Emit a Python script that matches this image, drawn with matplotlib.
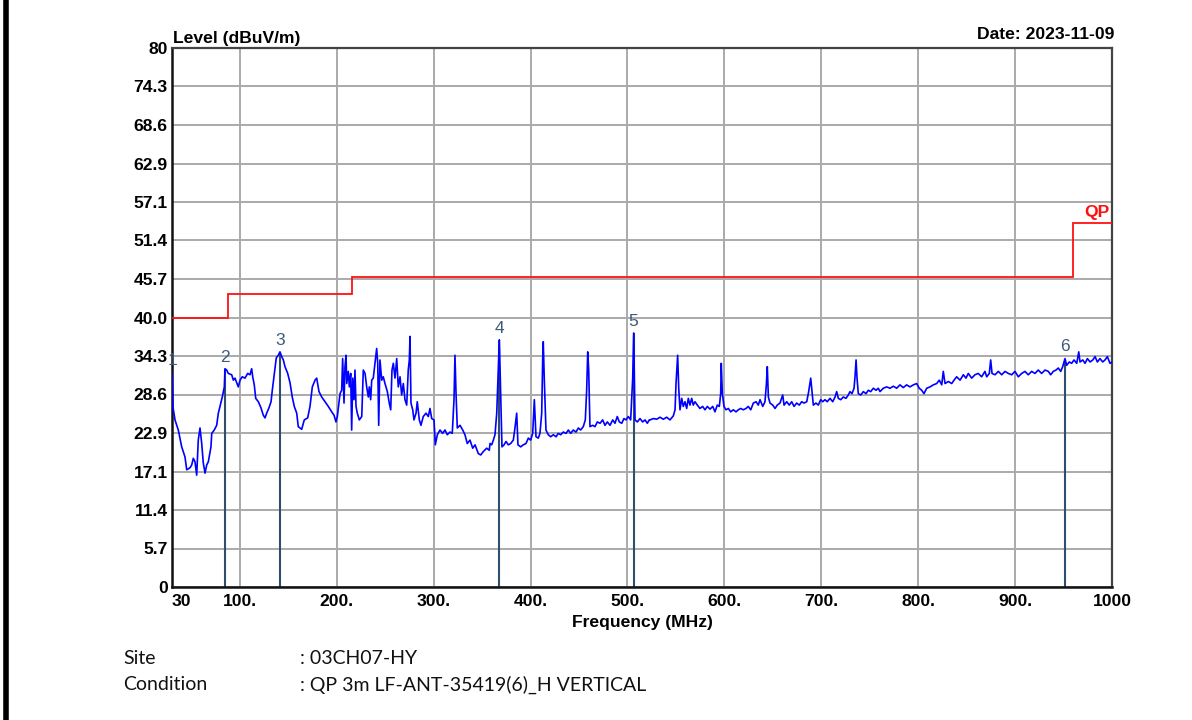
import matplotlib
matplotlib.use("Agg")
import matplotlib.pyplot as plt
from matplotlib.lines import Line2D

# Measured emission level (QP scan), MHz / dBuV/m
freq_mhz = [
    30.0, 31.0, 33.1, 36.5, 40.0, 43.4, 45.2, 48.6, 50.3, 52.0, 53.7, 55.5, 57.1, 58.9,
    60.6, 62.3, 64.1, 65.8, 67.5, 70.2, 71.0, 73.6, 76.1, 77.8, 79.5, 81.9, 84.0, 84.7,
    86.4, 88.1, 91.6, 93.3, 95.0, 96.8, 98.4, 100.2, 102.5, 105.3, 108.1, 110.5, 112.2,
    113.3, 114.9, 116.4, 119.1, 121.8, 124.2, 126.0, 127.7, 130.1, 132.2, 133.5, 135.6,
    137.6, 139.7, 141.4, 143.2, 144.9, 146.6, 149.4, 151.8, 154.1, 156.2, 158.7, 160.3,
    163.8, 166.5, 170.0, 172.4, 174.8, 177.6, 179.3, 181.7, 184.5, 187.9, 191.3, 194.8,
    197.2, 199.2, 200.6, 202.6, 203.4, 205.1, 206.1, 207.5, 208.5, 209.6, 210.3, 211.9,
    213.0, 214.4, 215.4, 216.5, 217.8, 218.8, 219.9, 221.2, 223.3, 225.8, 227.4, 229.2,
    230.9, 232.6, 233.6, 235.0, 236.1, 237.7, 239.5, 241.2, 242.3, 243.3, 244.6, 246.4,
    248.0, 249.8, 252.2, 254.2, 255.7, 257.0, 258.4, 260.1, 261.9, 263.5, 265.3, 267.0,
    268.7, 270.4, 272.2, 273.8, 274.9, 275.6, 276.6, 278.4, 279.7, 281.8, 283.1, 285.2,
    286.9, 289.3, 292.1, 294.5, 296.2, 298.0, 300.4, 301.7, 303.8, 306.6, 309.3, 311.7,
    314.1, 316.9, 319.2, 321.0, 322.0, 323.1, 324.4, 327.2, 330.0, 332.3, 334.7, 337.5,
    340.3, 342.7, 346.1, 348.6, 351.2, 354.7, 357.4, 358.2, 359.9, 361.6, 363.3, 365.1,
    366.4, 367.8, 369.2, 370.5, 372.6, 374.7, 377.0, 379.5, 382.2, 383.9, 385.7, 387.0,
    389.8, 392.5, 395.3, 397.7, 400.1, 402.2, 403.9, 405.6, 408.0, 409.7, 411.5, 412.5,
    413.1, 414.2, 415.9, 418.3, 420.8, 423.5, 426.3, 428.6, 431.1, 433.8, 436.6, 439.0,
    441.4, 444.1, 446.9, 449.3, 451.7, 454.4, 456.5, 457.9, 459.0, 460.0, 461.3, 464.1,
    466.5, 468.9, 471.7, 474.4, 476.8, 479.2, 482.0, 484.8, 487.1, 489.5, 491.6, 494.1,
    496.4, 498.5, 500.9, 503.3, 505.4, 506.4, 507.8, 510.2, 512.9, 515.7, 518.1, 520.5,
    522.5, 523.3, 526.7, 530.2, 533.6, 537.0, 540.5, 543.9, 547.3, 549.1, 550.1, 551.8,
    552.9, 554.2, 556.0, 557.6, 559.4, 561.1, 562.8, 564.5, 566.3, 567.9, 569.7, 572.1,
    574.8, 577.6, 580.0, 582.4, 585.2, 588.0, 590.3, 592.7, 594.8, 596.2, 596.8, 597.9,
    599.6, 601.7, 604.1, 606.5, 609.2, 612.0, 614.4, 616.8, 619.5, 622.3, 624.7, 627.2,
    629.9, 632.7, 635.0, 636.8, 639.6, 641.9, 643.3, 644.3, 645.4, 647.1, 649.9, 652.3,
    654.6, 657.4, 660.2, 661.6, 664.3, 667.0, 669.5, 671.9, 674.6, 677.3, 679.8, 682.2,
    685.0, 687.0, 689.1, 690.4, 691.8, 694.5, 696.9, 699.4, 701.5, 703.8, 706.2, 709.0,
    711.8, 714.2, 715.9, 717.6, 720.1, 722.7, 725.5, 727.9, 729.6, 731.7, 733.8, 734.8,
    735.9, 736.9, 738.2, 740.7, 743.4, 746.2, 748.5, 751.0, 753.7, 756.5, 758.8, 760.6,
    764.0, 767.5, 770.9, 774.4, 777.8, 781.2, 784.6, 788.1, 791.5, 795.0, 798.4, 801.1,
    803.6, 806.0, 808.8, 812.2, 815.6, 819.1, 821.8, 824.3, 825.9, 827.7, 831.1, 834.6,
    837.0, 839.7, 843.2, 846.6, 849.3, 851.7, 855.2, 858.6, 862.0, 865.5, 868.9, 870.7,
    873.4, 874.8, 876.2, 879.3, 882.7, 886.2, 889.6, 893.0, 896.5, 899.9, 903.3, 906.8,
    910.2, 913.6, 917.1, 920.5, 923.9, 927.4, 930.9, 934.3, 936.7, 939.4, 942.2, 944.6,
    947.1, 949.1, 951.5, 953.2, 955.9, 958.4, 960.8, 963.6, 965.7, 967.0, 969.8, 972.2,
    974.6, 977.4, 980.2, 982.5, 984.9, 987.6, 990.4, 992.8, 995.2, 997.9, 1000.0,
]
level_dbuv = [
    31.8, 26.7, 24.8, 23.3, 20.8, 19.3, 17.4, 17.7, 18.1, 19.1, 18.6, 16.6, 21.8, 23.6,
    21.4, 18.4, 16.9, 18.1, 18.6, 20.8, 22.8, 23.3, 24.0, 25.8, 26.8, 28.2, 29.7, 32.4,
    32.2, 31.7, 31.5, 30.7, 31.0, 30.3, 29.7, 30.7, 31.2, 31.0, 31.7, 31.5, 32.4,
    31.2, 30.0, 28.0, 27.5, 26.6, 25.5, 25.1, 25.8, 26.6, 27.5, 29.2, 31.7,
    34.0, 34.4, 34.9, 34.2, 33.7, 32.7, 31.7, 30.3, 28.2, 26.8, 25.8, 23.8,
    23.4, 24.8, 25.1, 26.8, 29.7, 30.7, 31.0, 29.0, 28.2, 27.5, 26.8, 26.0,
    25.5, 24.5, 25.3, 27.8, 28.7, 29.2, 33.9, 27.3, 32.7, 34.4, 30.2, 32.0,
    29.7, 31.7, 23.3, 31.0, 27.8, 32.2, 26.8, 25.8, 24.8, 25.3, 32.2, 31.7,
    29.7, 28.2, 29.7, 27.8, 30.7, 31.0, 33.2, 35.4, 33.2, 24.0, 33.7, 30.7,
    31.2, 30.2, 29.0, 27.3, 26.3, 32.2, 33.2, 31.0, 33.9, 29.7, 31.2, 28.5,
    30.2, 27.8, 27.0, 32.2, 33.7, 37.2, 27.3, 26.3, 24.8, 25.8, 27.5, 24.8,
    24.0, 25.3, 25.8, 25.3, 26.5, 25.0, 24.8, 21.1, 22.6, 23.3, 22.8, 23.3,
    22.6, 23.0, 22.8, 27.8, 34.4, 28.7, 23.6, 24.0, 23.3, 22.6, 21.3, 21.8,
    20.6, 21.1, 19.8, 19.6, 20.1, 20.6, 20.3, 21.3, 21.1, 21.8, 22.6, 25.8,
    31.0, 36.7, 28.7, 20.8, 21.1, 21.6, 21.1, 21.3, 21.8, 23.6, 25.8, 21.1,
    20.8, 21.1, 21.3, 22.1, 21.8, 22.8, 27.8, 22.3, 22.1, 22.8, 25.8, 33.7,
    36.4, 30.7, 23.3, 22.6, 22.3, 22.6, 22.3, 22.8, 22.6, 23.0, 22.8, 23.3,
    22.8, 23.3, 23.0, 23.6, 23.3, 23.8, 24.8, 29.2, 34.9, 32.2, 23.8, 24.0,
    23.8, 24.5, 24.3, 24.8, 24.0, 24.5, 24.0, 24.8, 24.3, 25.3, 24.5, 24.3,
    25.0, 24.8, 25.3, 24.8, 31.0, 37.7, 24.8, 24.5, 25.0, 24.5, 24.8, 24.3,
    24.8, 24.8, 25.0, 24.9, 25.2, 24.9, 25.2, 24.8, 25.4, 26.3, 30.2, 34.4,
    29.5, 26.3, 28.0, 26.8, 27.5, 26.5, 28.0, 27.0, 28.0, 27.0, 27.5, 27.0,
    26.5, 26.8, 26.3, 26.8, 26.4, 26.8, 26.0, 27.0, 26.8, 28.7, 33.2, 28.7,
    26.8, 26.3, 26.5, 26.0, 26.3, 26.0, 26.3, 26.5, 26.3, 26.5, 26.8, 26.3,
    27.3, 27.5, 27.0, 27.8, 26.8, 27.5, 30.0, 32.7, 28.2, 27.3, 27.0, 26.5,
    27.0, 27.3, 28.5, 27.0, 27.5, 27.0, 27.5, 26.8, 27.3, 27.0, 27.5, 27.3,
    27.5, 29.0, 31.0, 29.0, 27.0, 27.3, 27.0, 27.8, 27.5, 27.8, 27.5, 28.0,
    27.5, 28.2, 29.0, 28.0, 27.8, 28.2, 28.0, 28.5, 29.0, 28.7, 29.5, 31.2,
    33.7, 31.0, 28.7, 28.5, 29.0, 28.7, 29.2, 29.0, 29.5, 29.2, 29.5, 29.0,
    29.5, 29.7, 29.5, 29.8, 29.5, 30.0, 29.6, 30.0, 29.7, 30.0, 30.2, 29.5,
    29.2, 28.7, 29.5, 29.7, 30.0, 30.2, 30.7, 30.0, 32.0, 30.2, 30.5, 30.2,
    30.7, 31.2, 30.7, 31.5, 31.0, 31.7, 31.0, 31.5, 31.7, 31.2, 32.0, 31.2,
    31.7, 33.7, 31.7, 31.5, 32.0, 31.5, 32.0, 31.7, 31.5, 32.0, 31.2, 31.7,
    32.0, 31.5, 32.0, 31.7, 32.2, 31.7, 32.2, 32.0, 31.5, 32.0, 32.2, 32.5,
    32.0, 32.7, 33.9, 32.9, 33.4, 33.2, 33.7, 33.2, 34.9, 33.4, 33.7, 33.2,
    33.9, 33.4, 33.7, 34.2, 33.4, 33.9, 33.4, 33.7, 34.2, 33.2, 33.4,
]

# Quasi-peak limit (step edges in MHz, level per band)
limit_edges_mhz = [30, 88, 216, 960, 1000]
limit_levels = [40.0, 43.5, 46.0, 54.0]

# Marked points
marker_ids = ["1", "2", "3", "4", "5", "6"]
marker_freq = [30.0, 84.7, 141.4, 367.8, 506.4, 951.5]
marker_level = [31.9, 32.4, 34.9, 36.7, 37.7, 33.9]

# Axis ticks
x_ticks = [30, 100, 200, 300, 400, 500, 600, 700, 800, 900, 1000]
x_tick_labels = ["30", "100.", "200.", "300.", "400.", "500.", "600.", "700.",
                 "800.", "900.", "1000"]
y_tick_labels = ["0", "5.7", "11.4", "17.1", "22.9", "28.6", "34.3", "40.0",
                 "45.7", "51.4", "57.1", "62.9", "68.6", "74.3", "80"]

site_text = ": 03CH07-HY"
condition_text = ": QP 3m LF-ANT-35419(6)_H VERTICAL"

BOLD = dict(family=["Liberation Sans", "DejaVu Sans"], fontweight="bold", fontsize=12.6)
MARKER_COLOR = "#2f4d6d"

fig = plt.figure(figsize=(11.92, 7.2), dpi=100)
fig.patch.set_facecolor("white")
ax = fig.add_axes([172 / 1192, 1 - 587 / 720, 940 / 1192, 539 / 720])

ax.set_xlim(30, 1000)
ax.set_ylim(0, 80)

# grid
ax.set_xticks(x_ticks)
ax.set_xticklabels(x_tick_labels, **BOLD)
y_ticks = [k * 80 / 14 for k in range(15)]
ax.set_yticks(y_ticks)
ax.set_yticklabels(y_tick_labels, **BOLD)
ax.tick_params(length=0, pad=3)
ax.tick_params(axis="x", pad=5)
ax.get_xticklabels()[0].set_horizontalalignment("left")
ax.grid(True, color="#aaaaaa", linewidth=1.4)
ax.set_axisbelow(True)

for side in ("left", "bottom"):
    ax.spines[side].set_color("#111111")
    ax.spines[side].set_linewidth(1.8)
for side in ("top", "right"):
    ax.spines[side].set_color("#444444")
    ax.spines[side].set_linewidth(1.6)

# limit line
ax.stairs(limit_levels, limit_edges_mhz, baseline=None, color="#ff1010",
          linewidth=1.3, zorder=3)
ax.text(1000 - 16, limit_levels[-1] + 0.4, "QP", color="#ff1010", ha="center",
        va="bottom", **BOLD)

# markers (drawn under the axis frame)
ax.vlines(marker_freq, 0, marker_level, color=MARKER_COLOR, linewidth=1.5, zorder=2.2)
for mid, f, lv in zip(marker_ids, marker_freq, marker_level):
    ax.annotate(mid, (f, lv), xytext=(0, 3), textcoords="offset points",
                ha="center", va="bottom", color="#3d5a7a", fontsize=12.5,
                family=["Liberation Sans", "DejaVu Sans"], zorder=6,
                annotation_clip=False)

# measured trace
ax.plot(freq_mhz, level_dbuv, color="#0000ff", linewidth=1.2, zorder=4)

ax.set_xlabel("Frequency (MHz)", labelpad=4, **BOLD)
ax.text(0.001, 1.004, "Level (dBuV/m)", transform=ax.transAxes, ha="left",
        va="bottom", **BOLD)
ax.text(1.002, 1.012, "Date: 2023-11-09", transform=ax.transAxes, ha="right",
        va="bottom", **BOLD)

# test information
info_font = dict(family=["Lato", "DejaVu Sans"], fontsize=14, color="#111111")
fig.text(123 / 1192, 1 - 658 / 720, "Site", va="center", ha="left", **info_font)
fig.text(123 / 1192, 1 - 685 / 720, "Condition", va="center", ha="left", **info_font)
fig.text(300 / 1192, 1 - 658 / 720, site_text, va="center", ha="left", **info_font)
fig.text(300 / 1192, 1 - 685 / 720, condition_text, va="center", ha="left", **info_font)

# page border at the left
fig.add_artist(Line2D([6 / 1192, 6 / 1192], [0, 1], transform=fig.transFigure,
                      color="black", linewidth=4))

fig.savefig("out.png", dpi=100)
